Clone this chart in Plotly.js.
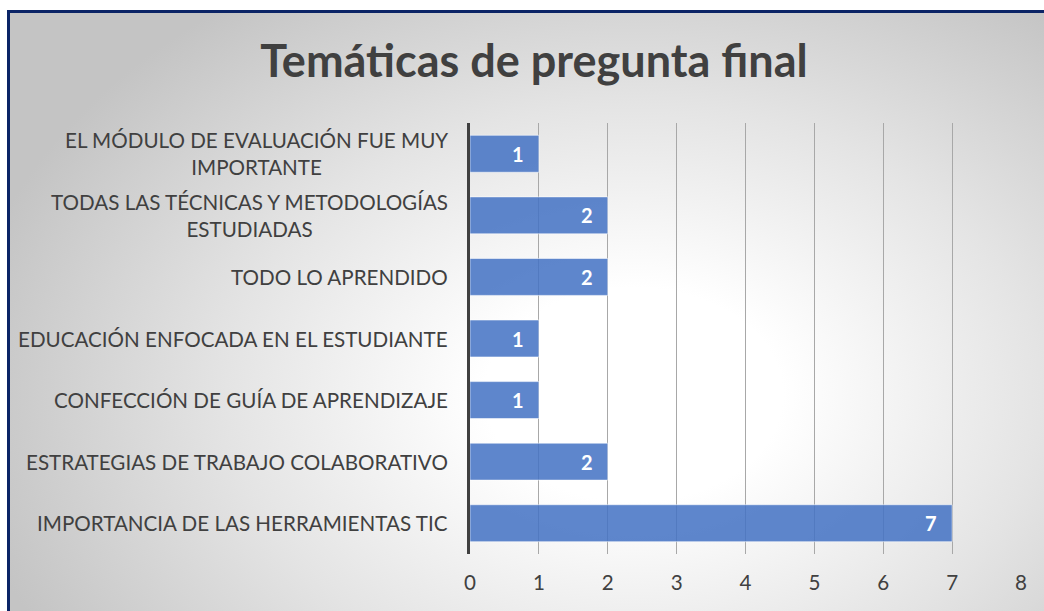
<!DOCTYPE html>
<html>
<head>
<meta charset="utf-8">
<script src="https://cdn.plot.ly/plotly-3.0.1.min.js"></script>
<style>
  html, body { margin: 0; padding: 0; width: 1044px; height: 611px; overflow: hidden; background: #ffffff; }
  #frame {
    position: absolute; left: 7px; top: 10px; width: 1100px; height: 700px;
    border: 3px solid #0b2466; box-sizing: border-box;
    background: radial-gradient(ellipse 62% 70% at 57% 55%, #ffffff 0%, #ffffff 22%, #e4e4e4 60%, #c4c4c4 100%);
  }
  #chart { position: absolute; left: 0; top: 0; width: 1044px; height: 611px; }
</style>
</head>
<body>
<div id="frame"></div>
<div id="chart"></div>
<script>
// Categories from bottom to top (Plotly draws the first category at the bottom)
const categories = [
  "IMPORTANCIA DE LAS HERRAMIENTAS TIC",
  "ESTRATEGIAS DE TRABAJO COLABORATIVO",
  "CONFECCIÓN DE GUÍA DE APRENDIZAJE",
  "EDUCACIÓN ENFOCADA EN EL ESTUDIANTE",
  "TODO LO APRENDIDO",
  "TODAS LAS TÉCNICAS Y METODOLOGÍAS<br>ESTUDIADAS",
  "EL MÓDULO DE EVALUACIÓN FUE MUY<br>IMPORTANTE"
];
const values = [7, 2, 1, 1, 2, 2, 1];
const xTicks = [0, 1, 2, 3, 4, 5, 6, 7, 8];
const chartTitle = "Temáticas de pregunta final";

const FONT = "Lato, 'Open Sans', sans-serif";
const TXT = "#404040";

const trace = {
  type: "bar",
  orientation: "h",
  y: categories,
  x: values,
  marker: { color: "rgba(68,114,196,0.86)", line: { color: "rgba(255,255,255,0.55)", width: 1 } },
  hoverinfo: "x+y"
};

const annotations = [];
categories.forEach((c, i) => {
  annotations.push({
    xref: "paper", yref: "y", x: 0, y: c, xanchor: "right", yanchor: "middle",
    xshift: -20, text: c, align: "center", showarrow: false,
    font: { family: FONT, size: 20.6, color: TXT }
  });
  annotations.push({
    xref: "x", yref: "y", x: values[i], y: c, xanchor: "right", yanchor: "middle",
    xshift: -13, text: String(values[i]), showarrow: false,
    font: { family: FONT, size: 20, color: "#ffffff", weight: "bold" }
  });
});

const layout = {
  width: 1044, height: 611,
  paper_bgcolor: "rgba(0,0,0,0)",
  plot_bgcolor: "rgba(0,0,0,0)",
  margin: { l: 470, r: 23, t: 123, b: 57 },
  title: {
    text: "<b>" + chartTitle + "</b>",
    x: 0.5115, xanchor: "center", xref: "container",
    y: 0.899, yanchor: "middle", yref: "container",
    font: { family: FONT, size: 45, color: TXT }
  },
  bargap: 0.4,
  showlegend: false,
  xaxis: {
    range: [0, 8], tickvals: xTicks, ticktext: xTicks.map(String),
    showgrid: true, gridcolor: "#a8a8a8", gridwidth: 1,
    zeroline: false, showline: false, ticks: "",
    ticklabelstandoff: 14,
    tickfont: { family: FONT, size: 20.6, color: TXT },
    fixedrange: true
  },
  yaxis: {
    showticklabels: false, showgrid: false, zeroline: false,
    showline: true, linecolor: "#404040", linewidth: 3,
    ticks: "", fixedrange: true
  },
  annotations: annotations
};

Plotly.newPlot("chart", [trace], layout, { displayModeBar: false, staticPlot: true });
</script>
</body>
</html>
